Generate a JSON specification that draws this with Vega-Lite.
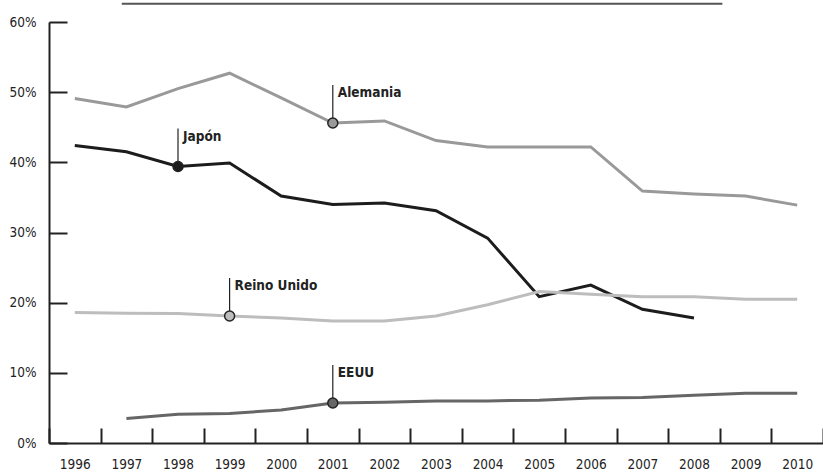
{
  "$schema": "https://vega.github.io/schema/vega-lite/v6.json",
  "width": 774,
  "height": 421,
  "autosize": {"type": "none"},
  "padding": {"left": 49, "top": 22, "right": 0, "bottom": 30},
  "config": {
    "view": {"stroke": null},
    "font": "DejaVu Sans Condensed, Liberation Sans Narrow, sans-serif",
    "axis": {"grid": false, "labelFont": "DejaVu Sans Condensed, Liberation Sans Narrow, sans-serif", "labelFontSize": 13.5, "labelColor": "#222222", "domainColor": "#222222", "tickColor": "#222222", "domainWidth": 2, "tickWidth": 2}
  },
  "datasets": {
    "series": [
      {"pais": "Alemania", "anio": "1996", "valor": 0.491},
      {"pais": "Alemania", "anio": "1997", "valor": 0.479},
      {"pais": "Alemania", "anio": "1998", "valor": 0.505},
      {"pais": "Alemania", "anio": "1999", "valor": 0.527},
      {"pais": "Alemania", "anio": "2000", "valor": 0.492},
      {"pais": "Alemania", "anio": "2001", "valor": 0.456},
      {"pais": "Alemania", "anio": "2002", "valor": 0.459},
      {"pais": "Alemania", "anio": "2003", "valor": 0.431},
      {"pais": "Alemania", "anio": "2004", "valor": 0.422},
      {"pais": "Alemania", "anio": "2005", "valor": 0.422},
      {"pais": "Alemania", "anio": "2006", "valor": 0.422},
      {"pais": "Alemania", "anio": "2007", "valor": 0.359},
      {"pais": "Alemania", "anio": "2008", "valor": 0.355},
      {"pais": "Alemania", "anio": "2009", "valor": 0.352},
      {"pais": "Alemania", "anio": "2010", "valor": 0.339},
      {"pais": "Japón", "anio": "1996", "valor": 0.424},
      {"pais": "Japón", "anio": "1997", "valor": 0.415},
      {"pais": "Japón", "anio": "1998", "valor": 0.394},
      {"pais": "Japón", "anio": "1999", "valor": 0.399},
      {"pais": "Japón", "anio": "2000", "valor": 0.352},
      {"pais": "Japón", "anio": "2001", "valor": 0.340},
      {"pais": "Japón", "anio": "2002", "valor": 0.342},
      {"pais": "Japón", "anio": "2003", "valor": 0.331},
      {"pais": "Japón", "anio": "2004", "valor": 0.292},
      {"pais": "Japón", "anio": "2005", "valor": 0.2085},
      {"pais": "Japón", "anio": "2006", "valor": 0.225},
      {"pais": "Japón", "anio": "2007", "valor": 0.1905},
      {"pais": "Japón", "anio": "2008", "valor": 0.178},
      {"pais": "Reino Unido", "anio": "1996", "valor": 0.186},
      {"pais": "Reino Unido", "anio": "1997", "valor": 0.185},
      {"pais": "Reino Unido", "anio": "1998", "valor": 0.1845},
      {"pais": "Reino Unido", "anio": "1999", "valor": 0.181},
      {"pais": "Reino Unido", "anio": "2000", "valor": 0.178},
      {"pais": "Reino Unido", "anio": "2001", "valor": 0.174},
      {"pais": "Reino Unido", "anio": "2002", "valor": 0.174},
      {"pais": "Reino Unido", "anio": "2003", "valor": 0.181},
      {"pais": "Reino Unido", "anio": "2004", "valor": 0.197},
      {"pais": "Reino Unido", "anio": "2005", "valor": 0.216},
      {"pais": "Reino Unido", "anio": "2006", "valor": 0.212},
      {"pais": "Reino Unido", "anio": "2007", "valor": 0.2085},
      {"pais": "Reino Unido", "anio": "2008", "valor": 0.2085},
      {"pais": "Reino Unido", "anio": "2009", "valor": 0.205},
      {"pais": "Reino Unido", "anio": "2010", "valor": 0.205},
      {"pais": "EEUU", "anio": "1997", "valor": 0.035},
      {"pais": "EEUU", "anio": "1998", "valor": 0.041},
      {"pais": "EEUU", "anio": "1999", "valor": 0.042},
      {"pais": "EEUU", "anio": "2000", "valor": 0.047},
      {"pais": "EEUU", "anio": "2001", "valor": 0.057},
      {"pais": "EEUU", "anio": "2002", "valor": 0.058},
      {"pais": "EEUU", "anio": "2003", "valor": 0.060},
      {"pais": "EEUU", "anio": "2004", "valor": 0.060},
      {"pais": "EEUU", "anio": "2005", "valor": 0.061},
      {"pais": "EEUU", "anio": "2006", "valor": 0.064},
      {"pais": "EEUU", "anio": "2007", "valor": 0.065},
      {"pais": "EEUU", "anio": "2008", "valor": 0.068},
      {"pais": "EEUU", "anio": "2009", "valor": 0.071},
      {"pais": "EEUU", "anio": "2010", "valor": 0.071}
    ],
    "anotaciones": [
      {"pais": "Alemania", "anio": "2001", "valor": 0.456, "etiqueta": "Alemania"},
      {"pais": "Japón", "anio": "1998", "valor": 0.394, "etiqueta": "Japón"},
      {"pais": "Reino Unido", "anio": "1999", "valor": 0.181, "etiqueta": "Reino Unido"},
      {"pais": "EEUU", "anio": "2001", "valor": 0.057, "etiqueta": "EEUU"}
    ],
    "decoracion": [
      {"inicio": 0.094, "fin": 0.87, "nivel": 0.626}
    ]
  },
  "layer": [
    {
      "encoding": {
        "x": {
          "field": "anio", "type": "ordinal", "bandPosition": 0.5,
          "scale": {"type": "band", "paddingInner": 0, "paddingOuter": 0,
            "domain": ["1996","1997","1998","1999","2000","2001","2002","2003","2004","2005","2006","2007","2008","2009","2010"]},
          "axis": {"title": null, "labelAngle": 0, "tickBand": "extent", "tickSize": -15, "labelPadding": 29, "labelBaseline": "top"}
        },
        "y": {
          "field": "valor", "type": "quantitative",
          "scale": {"domain": [0, 0.6], "nice": false},
          "axis": {"title": null, "values": [0, 0.1, 0.2, 0.3, 0.4, 0.5, 0.6], "format": ".0%", "tickSize": -18, "labelPadding": 31}
        },
        "color": {
          "field": "pais", "type": "nominal", "legend": null,
          "scale": {"domain": ["Alemania", "Japón", "Reino Unido", "EEUU"], "range": ["#999999", "#1c1c1c", "#bdbdbd", "#666666"]}
        }
      },
      "layer": [
        {"data": {"name": "series"}, "mark": {"type": "line", "strokeWidth": 3}},
        {"data": {"name": "anotaciones"}, "mark": {"type": "rule", "color": "#222222", "strokeWidth": 1.2, "y2Offset": -38},
          "encoding": {"y2": {"field": "valor"}, "color": {"value": "#222222"}}},
        {"data": {"name": "anotaciones"}, "mark": {"type": "point", "filled": true, "size": 100, "stroke": "#222222", "strokeWidth": 1.5, "opacity": 1}},
        {"data": {"name": "anotaciones"}, "mark": {"type": "text", "align": "left", "baseline": "middle", "dx": 5, "dy": -30, "fontSize": 13.5, "fontWeight": "bold", "font": "DejaVu Sans Condensed, Liberation Sans Narrow, sans-serif"},
          "encoding": {"text": {"field": "etiqueta"}, "color": {"value": "#222222"}}}
      ]
    },
    {
      "data": {"name": "decoracion"},
      "mark": {"type": "rule", "color": "#555555", "strokeWidth": 2},
      "encoding": {
        "x": {"field": "inicio", "type": "quantitative", "scale": {"domain": [0, 1]}, "axis": null},
        "x2": {"field": "fin"},
        "y": {"field": "nivel", "type": "quantitative", "scale": {"domain": [0, 0.6], "nice": false}, "axis": null}
      }
    }
  ],
  "resolve": {"scale": {"x": "independent", "y": "independent"}, "axis": {"x": "independent", "y": "independent"}}
}
